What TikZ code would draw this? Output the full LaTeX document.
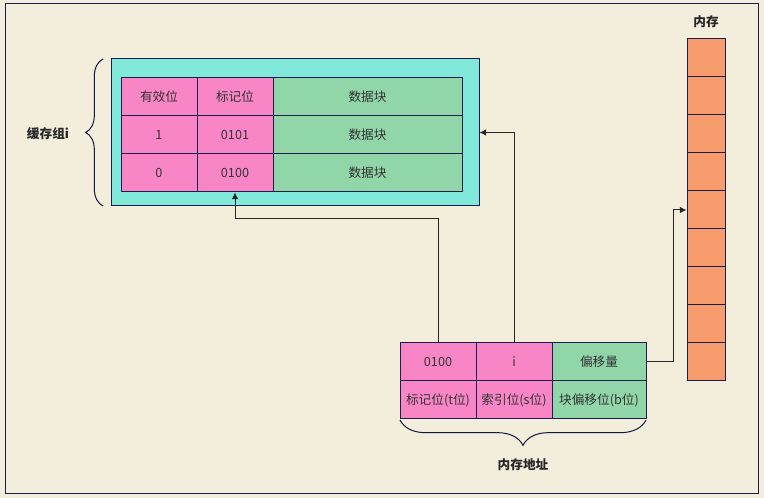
\documentclass[tikz,border=0pt]{standalone}
\usepackage{fontspec}
\setmainfont{Noto Sans CJK SC}
\usepackage{tikz}
\usetikzlibrary{arrows.meta,decorations.pathreplacing}

\definecolor{bgbeige}{HTML}{F3EDDC}
\definecolor{framenavy}{HTML}{1C1C50}
\definecolor{setcyan}{HTML}{80E9DA}
\definecolor{bitpink}{HTML}{F886C7}
\definecolor{datagreen}{HTML}{90D6A8}
\definecolor{memorange}{HTML}{F59B6C}
\definecolor{textgray}{HTML}{333333}

\tikzset{
  cell/.style={draw=framenavy, line width=0.75pt, minimum height=28.5pt, inner sep=0pt,
    text=textgray, font=\fontsize{9.5}{12}\selectfont},
  pinkcell/.style={cell, fill=bitpink, minimum width=57pt},
  greencell/.style={cell, fill=datagreen, minimum width=141.75pt},
  memcell/.style={cell, fill=memorange, minimum width=28.5pt},
  label/.style={font=\fontsize{9.5}{12}\selectfont\bfseries, text=black!85},
  conn/.style={draw=black!85, line width=0.75pt, -{Latex[length=5pt,width=5pt]}},
  bracket/.style={draw=framenavy!80!black, line width=0.75pt, decorate}
}

\begin{document}
\begin{tikzpicture}[x=0.75pt,y=0.75pt,yscale=-1,xscale=1]
%Background and frame
\fill[bgbeige] (0,0) rectangle (764,498);
\draw[framenavy, line width=0.75pt] (5,4) rectangle (758,494);

%Shape: cache set (cyan)
\node[draw=framenavy, line width=0.75pt, fill=setcyan, minimum width=276pt, minimum height=110.25pt, inner sep=0pt] (cacheset) at (295,132.5) {};

%Cache lines
\node[pinkcell] (t00) at (159,97) {有效位};
\node[pinkcell] (t01) at (235,97) {标记位};
\node[greencell] (t02) at (367.5,97) {数据块};
\node[pinkcell] (t10) at (159,135) {1};
\node[pinkcell] (t11) at (235,135) {0101};
\node[greencell] (t12) at (367.5,135) {数据块};
\node[pinkcell] (t20) at (159,173) {0};
\node[pinkcell] (t21) at (235,173) {0100};
\node[greencell] (t22) at (367.5,173) {数据块};

%Brace of the cache set
\draw[bracket, decoration={brace, amplitude=13pt}] (103,206) -- (103,59);
\node[label] (setlabel) at (48,134) {缓存组i};

%Memory address
\node[pinkcell] (a00) at (438,362) {0100};
\node[pinkcell] (a01) at (514,362) {i};
\node[cell, fill=datagreen, minimum width=70.5pt] (a02) at (599,362) {偏移量};
\node[pinkcell] (a10) at (438,400) {标记位(t位)};
\node[pinkcell] (a11) at (514,400) {索引位(s位)};
\node[cell, fill=datagreen, minimum width=70.5pt] (a12) at (599,400) {块偏移位(b位)};

%Brace of the address
\draw[bracket, decoration={brace, amplitude=19pt}] (646,420) -- (400,420);
\node[label] (addrlabel) at (523,465) {内存地址};

%Main memory
\node[label] (memlabel) at (706,22) {内存};
\foreach \k in {0,...,8}
  \node[memcell] (m\k) at (706,58+38*\k) {};

%Connectors
\draw[conn] (a00.north) -- ++(0,-124) -| (t21.south);
\draw[conn] (a01.north) |- (cacheset.east);
\draw[conn] (a02.east) -- ++(27,0) |- (m4.west);

\end{tikzpicture}
\end{document}
